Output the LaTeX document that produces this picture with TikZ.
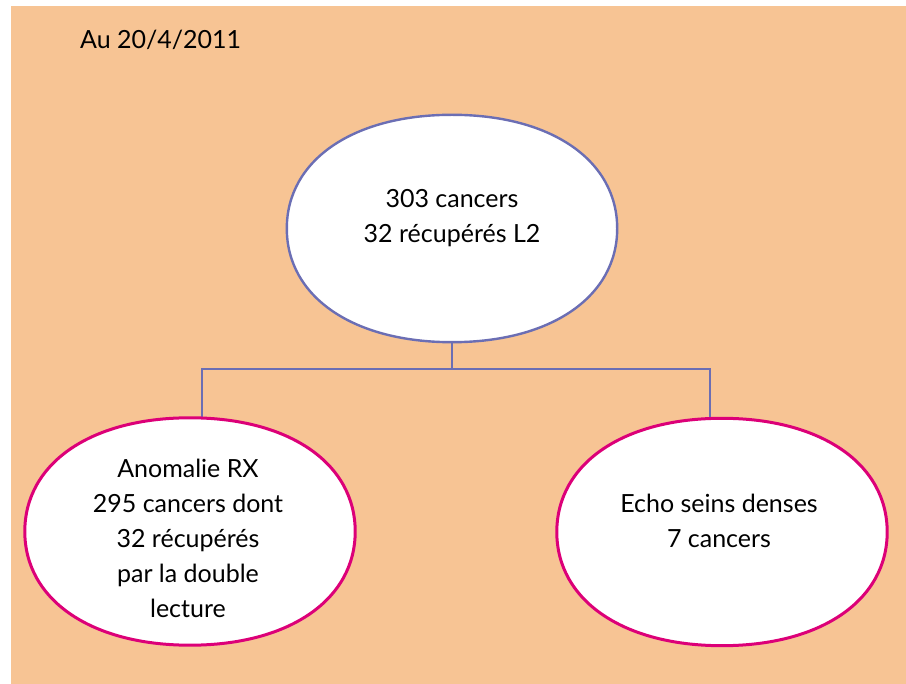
\documentclass[tikz,border=0pt]{standalone}
\usepackage{fontspec}
\setmainfont{Lato}
\usetikzlibrary{calc}
\definecolor{bgorange}{RGB}{247,196,148}
\definecolor{linkblue}{RGB}{107,110,180}
\definecolor{rimpink}{RGB}{220,0,120}
\newcommand\kk{0.6}
\newcommand\blobpath[2]{%
  \draw[#2] (#1.north)
    .. controls ($(#1.north)!\kk!(#1.north east)$) and ($(#1.east)!\kk!(#1.north east)$) .. (#1.east)
    .. controls ($(#1.east)!\kk!(#1.south east)$) and ($(#1.south)!\kk!(#1.south east)$) .. (#1.south)
    .. controls ($(#1.south)!\kk!(#1.south west)$) and ($(#1.west)!\kk!(#1.south west)$) .. (#1.west)
    .. controls ($(#1.west)!\kk!(#1.north west)$) and ($(#1.north)!\kk!(#1.north west)$) .. (#1.north) -- cycle;}
\tikzset{
  blobframe/.style={shape=rectangle, inner sep=0pt, minimum width=330pt, minimum height=227pt},
  blobtext/.style={align=center, font=\fontsize{25}{35}\selectfont, inner sep=0pt},
  topline/.style={draw=linkblue, line width=2.4pt, fill=white},
  bottomline/.style={draw=rimpink, line width=3pt, fill=white},
  link/.style={draw=linkblue, line width=2.4pt},
}
\begin{document}
\begin{tikzpicture}[x=1pt,y=-1pt]
  \useasboundingbox (0,0) rectangle (906,684);
  \fill[bgorange] (11,6) rectangle (906,684);
  \node[blobframe] (top) at (452,228.5) {};
  \node[blobframe] (left) at (190,531.5) {};
  \node[blobframe] (right) at (722,532) {};
  \coordinate (j) at ($(top.south)+(0,27)$);
  \draw[link] (top.south) -- (j);
  \draw[link] ([xshift=12pt]left.north) |- (j) -| ([xshift=-12pt]right.north);
  \blobpath{top}{topline}
  \blobpath{left}{bottomline}
  \blobpath{right}{bottomline}
  \node[blobtext] (toptext) at (452,218.5) {303 cancers\\32 récupérés L2};
  \node[blobtext] (lefttext) at (188,538.5) {Anomalie RX\\295 cancers dont\\32 récupérés\\par la double\\lecture};
  \node[blobtext] (righttext) at (719,521) {Echo seins denses\\7 cancers};
  \node[blobtext, anchor=base west] (date) at (80,49) {Au 20/4/2011};
\end{tikzpicture}
\end{document}
